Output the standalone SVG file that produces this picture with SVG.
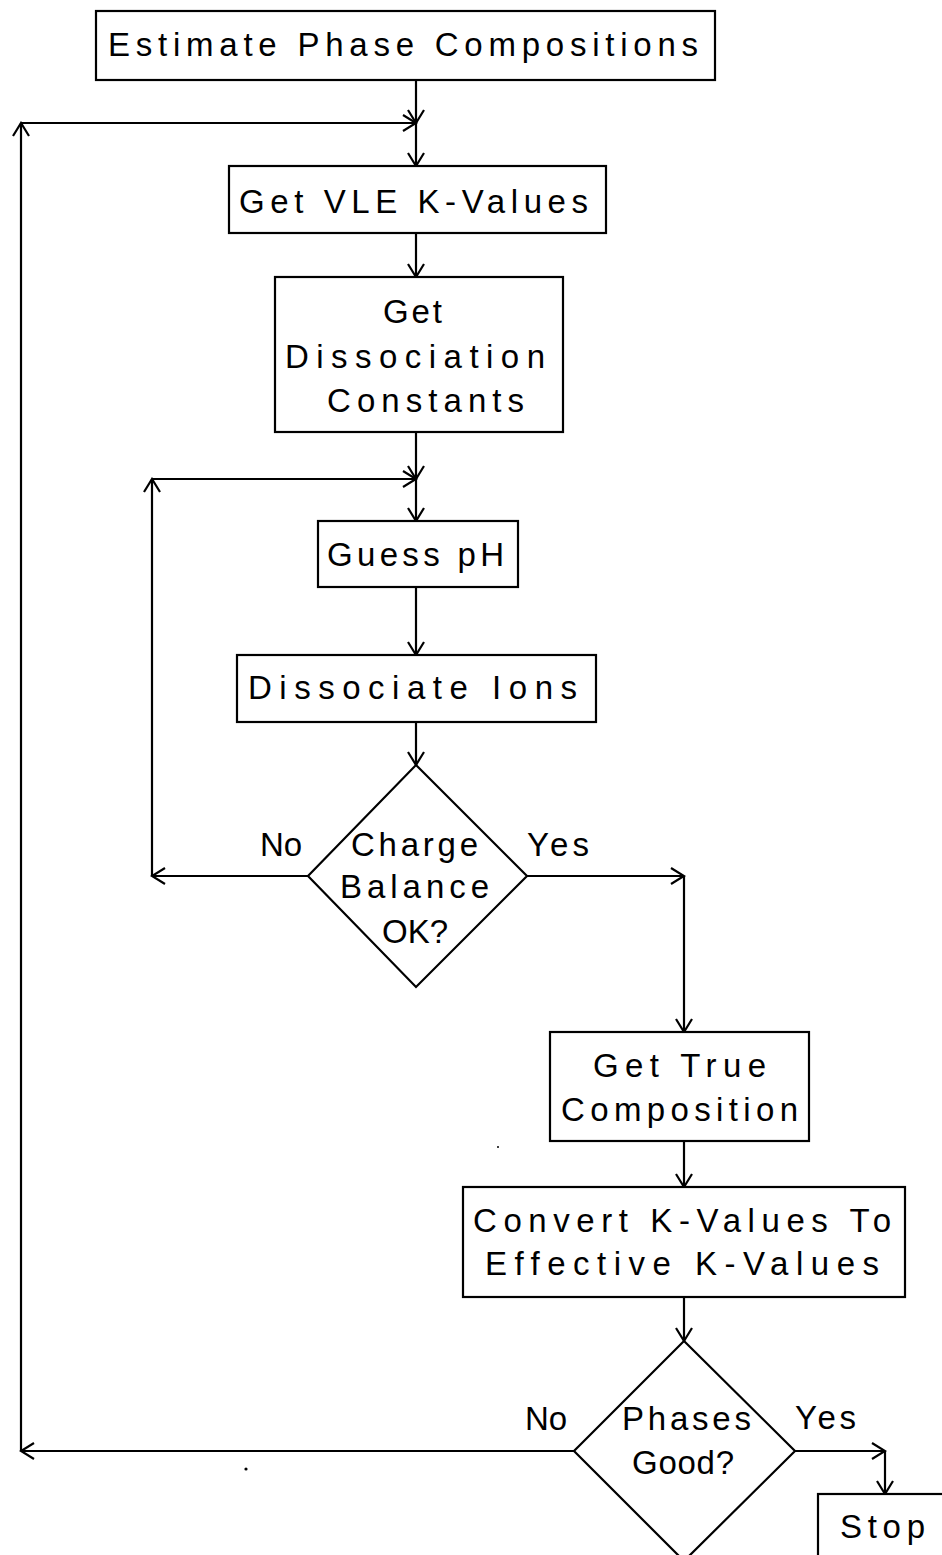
<svg xmlns="http://www.w3.org/2000/svg" width="942" height="1555" viewBox="0 0 942 1555">
<style>
.box{fill:#fff;stroke:#000;stroke-width:2.2}
.ln{fill:none;stroke:#000;stroke-width:2.2;marker-end:url(#ah)}
.t{font-family:"Liberation Sans",Arial,sans-serif;font-size:33px;fill:#000}
</style>
<defs>
<marker id="ah" viewBox="-15 -10 17 20" refX="0" refY="0" markerWidth="17" markerHeight="20" markerUnits="userSpaceOnUse" orient="auto">
<path d="M -13 -8 L 0 0 L -13 8" fill="none" stroke="#000" stroke-width="2.2"/>
</marker>
</defs>
<rect width="942" height="1555" fill="#fff"/>
<g id="connectors">
<line class="ln" x1="416" y1="80" x2="416" y2="123"/>
<line class="ln" x1="21" y1="123" x2="416" y2="123"/>
<line class="ln" x1="416" y1="123" x2="416" y2="166"/>
<line class="ln" x1="416" y1="233" x2="416" y2="277"/>
<line class="ln" x1="416" y1="432" x2="416" y2="479"/>
<line class="ln" x1="152" y1="479" x2="416" y2="479"/>
<line class="ln" x1="416" y1="479" x2="416" y2="521"/>
<line class="ln" x1="416" y1="587" x2="416" y2="655"/>
<line class="ln" x1="416" y1="722" x2="416" y2="765"/>
<line class="ln" x1="308" y1="876" x2="152" y2="876"/>
<line class="ln" x1="152" y1="876" x2="152" y2="479"/>
<line class="ln" x1="527" y1="876" x2="684" y2="876"/>
<line class="ln" x1="684" y1="876" x2="684" y2="1032"/>
<line class="ln" x1="684" y1="1141" x2="684" y2="1187"/>
<line class="ln" x1="684" y1="1297" x2="684" y2="1341"/>
<line class="ln" x1="574" y1="1451" x2="21" y2="1451"/>
<line class="ln" x1="21" y1="1451" x2="21" y2="123"/>
<line class="ln" x1="795" y1="1451" x2="885" y2="1451"/>
<line class="ln" x1="885" y1="1451" x2="885" y2="1494"/>
</g>
<g id="estimate">
<rect class="box" x="96" y="11" width="619" height="69"/>
<text class="t" x="108" y="56" textLength="590" lengthAdjust="spacing">Estimate Phase Compositions</text>
</g>
<g id="vle">
<rect class="box" x="229" y="166" width="377" height="67"/>
<text class="t" x="239" y="213" textLength="349" lengthAdjust="spacing">Get VLE K-Values</text>
</g>
<g id="dissconst">
<rect class="box" x="275" y="277" width="288" height="155"/>
<text class="t" x="383" y="323" textLength="59" lengthAdjust="spacing">Get</text>
<text class="t" x="285" y="368" textLength="260" lengthAdjust="spacing">Dissociation</text>
<text class="t" x="327" y="412" textLength="197" lengthAdjust="spacing">Constants</text>
</g>
<g id="guessph">
<rect class="box" x="318" y="521" width="200" height="66"/>
<text class="t" x="327" y="566" textLength="177" lengthAdjust="spacing">Guess pH</text>
</g>
<g id="dissions">
<rect class="box" x="237" y="655" width="359" height="67"/>
<text class="t" x="248" y="699" textLength="329" lengthAdjust="spacing">Dissociate Ions</text>
</g>
<g id="charge">
<polygon class="box" points="416,765 527,876 416,987 308,876"/>
<text class="t" x="351" y="856" textLength="127" lengthAdjust="spacing">Charge</text>
<text class="t" x="340" y="898" textLength="149" lengthAdjust="spacing">Balance</text>
<text class="t" x="382" y="943">OK?</text>
<text class="t" x="260" y="856">No</text>
<text class="t" x="527" y="856" textLength="62" lengthAdjust="spacing">Yes</text>
</g>
<g id="truecomp">
<rect class="box" x="550" y="1032" width="259" height="109"/>
<text class="t" x="593" y="1077" textLength="173" lengthAdjust="spacing">Get True</text>
<text class="t" x="561" y="1121" textLength="237" lengthAdjust="spacing">Composition</text>
</g>
<g id="convert">
<rect class="box" x="463" y="1187" width="442" height="110"/>
<text class="t" x="473" y="1232" textLength="418" lengthAdjust="spacing">Convert K-Values To</text>
<text class="t" x="485" y="1275" textLength="394" lengthAdjust="spacing">Effective K-Values</text>
</g>
<g id="phases">
<polygon class="box" points="684,1341 795,1451 684,1561 574,1451"/>
<text class="t" x="622" y="1430" textLength="129" lengthAdjust="spacing">Phases</text>
<text class="t" x="632" y="1474" textLength="102" lengthAdjust="spacing">Good?</text>
<text class="t" x="525" y="1430">No</text>
<text class="t" x="795" y="1429" textLength="61" lengthAdjust="spacing">Yes</text>
</g>
<g id="stop">
<rect class="box" x="818" y="1494" width="140" height="80"/>
<text class="t" x="840" y="1538" textLength="85" lengthAdjust="spacing">Stop</text>
</g>
<circle cx="246" cy="1469" r="1.6" fill="#000"/>
<circle cx="498" cy="1147" r="1" fill="#000"/>
</svg>
